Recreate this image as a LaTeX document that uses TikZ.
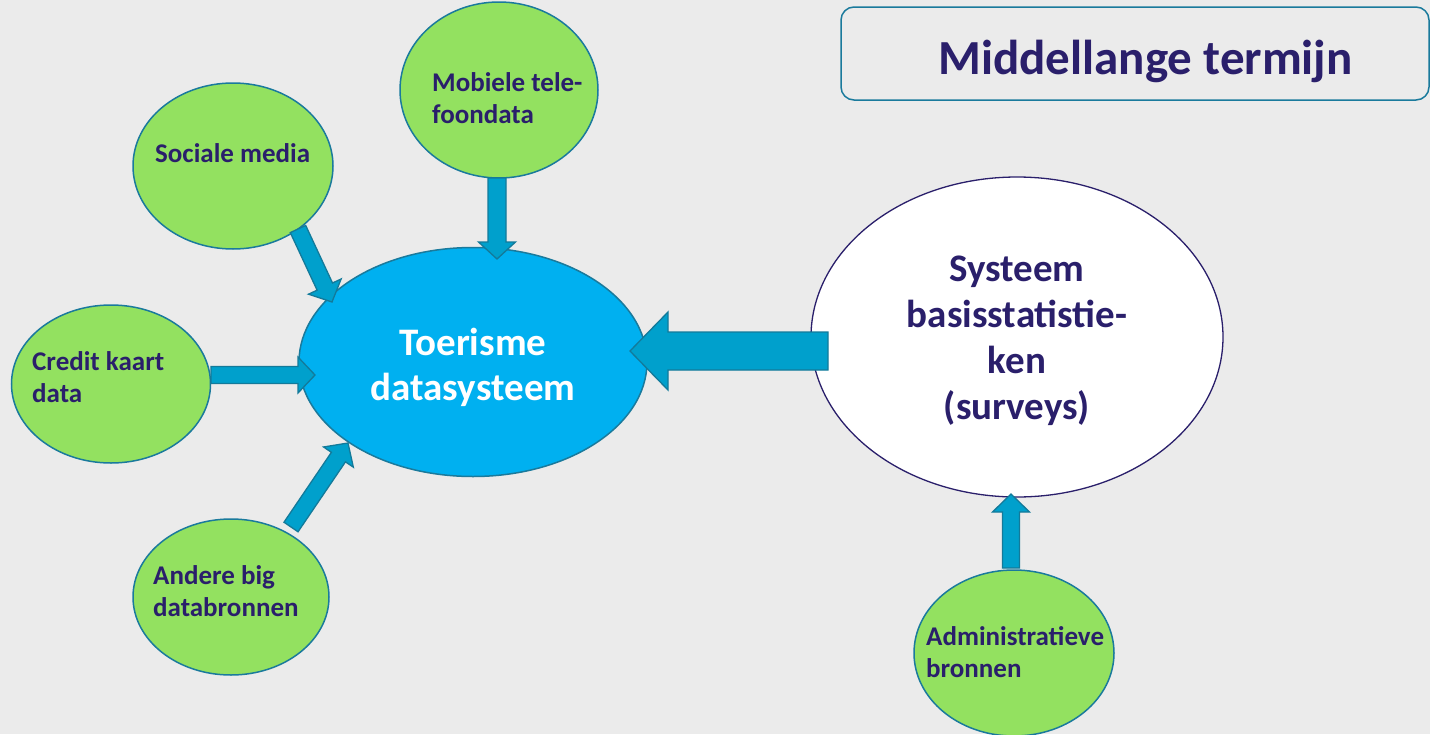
\documentclass[tikz,border=0pt]{standalone}
\usepackage{fontspec}
\setmainfont{Carlito}
\usetikzlibrary{calc,shapes.geometric}
\definecolor{bgc}{HTML}{EBEBEB}
\definecolor{greenf}{HTML}{93E160}
\definecolor{bluef}{HTML}{00B0F0}
\definecolor{tealb}{HTML}{1A7A9C}
\definecolor{arrf}{HTML}{00A0CC}
\definecolor{arrb}{HTML}{137A9A}
\definecolor{navy}{HTML}{2A1F6B}
\tikzset{
  gell/.style={ellipse, draw=tealb, line width=1.5pt, fill=greenf, inner sep=0pt},
  gtxt/.style={anchor=west, align=left, inner sep=0pt, text=navy,
    font=\bfseries\fontsize{27}{32}\selectfont},
  btxt/.style={align=center, inner sep=0pt, text=white,
    font=\bfseries\fontsize{39}{45}\selectfont},
  wtxt/.style={align=center, inner sep=0pt, text=navy,
    font=\bfseries\fontsize{39}{46}\selectfont},
  barrow/.style={fill=arrf, draw=arrb, line width=1.3pt, line join=miter},
}
\newcommand\blockarrow[5]{%
 \draw[barrow] let \p1=(#1), \p2=(#2),
   \n1={atan2(\y2-\y1,\x2-\x1)}, \n2={veclen(\x2-\x1,\y2-\y1)-#5},
   \n3={cos(\n1)}, \n4={sin(\n1)} in
   ({\x1-(#3)*\n4},{\y1+(#3)*\n3}) --
   ({\x1+\n2*\n3-(#3)*\n4},{\y1+\n2*\n4+(#3)*\n3}) --
   ({\x1+\n2*\n3-(#4)*\n4},{\y1+\n2*\n4+(#4)*\n3}) --
   (\p2) --
   ({\x1+\n2*\n3+(#4)*\n4},{\y1+\n2*\n4-(#4)*\n3}) --
   ({\x1+\n2*\n3+(#3)*\n4},{\y1+\n2*\n4-(#3)*\n3}) --
   ({\x1+(#3)*\n4},{\y1-(#3)*\n3}) -- cycle;}
\begin{document}
\begin{tikzpicture}[x=1pt,y=-1pt]
\path[fill=bgc] (0,0) rectangle (1430,734);
\useasboundingbox (0,0) rectangle (1430,734);
% title
\node[draw=tealb, line width=1.5pt, rounded corners=13pt, fill=bgc,
  minimum width=588pt, minimum height=93pt, inner sep=0pt] (title) at (1135,53.5) {};
\node[text=navy, font=\bfseries\fontsize{49}{55}\selectfont, inner sep=0pt] (titleT) at (1145.5,61) {Middellange termijn};
% central
\node[ellipse, draw=tealb, line width=1.5pt, fill=bluef, inner sep=0pt,
  minimum width=348pt, minimum height=229pt] (tds) at (473,362) {};
\node[btxt] (tdsT) at (473,367) {Toerisme\\datasysteem};
\node[ellipse, draw=navy, line width=1.3pt, fill=white, inner sep=0pt,
  minimum width=412pt, minimum height=320pt] (sys) at (1017,337) {};
\node[wtxt] (sysT) at (1017,341) {Systeem\\basisstatistie-\\ken\\(surveys)};
% green sources
\node[gell, minimum width=200pt, minimum height=166pt] (soc) at (233,166) {};
\node[gtxt] (socT) at (155,153) {Sociale media};
\node[gell, minimum width=198pt, minimum height=176pt] (mob) at (499,90) {};
\node[gtxt] (mobT) at (432,98) {Mobiele tele-\\foondata};
\node[gell, minimum width=199pt, minimum height=158pt] (cred) at (111,384) {};
\node[gtxt] (credT) at (32,377) {Credit kaart\\data};
\node[gell, minimum width=196pt, minimum height=156pt] (and) at (231,597) {};
\node[gtxt] (andT) at (153,591) {Andere big\\databronnen};
\node[gell, minimum width=200pt, minimum height=166pt] (adm) at (1014,653) {};
\node[gtxt] (admT) at (926,652) {Administratieve\\bronnen};
% arrow end points
\coordinate (mobA) at (497,178);  \coordinate (mobB) at (497,259);
\coordinate (socA) at (298,229);  \coordinate (socB) at (332,302);
\coordinate (credA) at (211,375); \coordinate (credB) at (315,375);
\coordinate (andA) at (291,527);  \coordinate (andB) at (348,443);
\coordinate (sysA) at (828,351);  \coordinate (sysB) at (630,351);
\coordinate (admA) at (1011,568); \coordinate (admB) at (1011,494);
\blockarrow{mobA}{mobB}{9pt}{18.5pt}{17pt}
\blockarrow{socA}{socB}{8.5pt}{18pt}{17pt}
\blockarrow{credA}{credB}{8.5pt}{18pt}{17pt}
\blockarrow{andA}{andB}{8.5pt}{18pt}{17pt}
\blockarrow{sysA}{sysB}{19pt}{39pt}{38pt}
\blockarrow{admA}{admB}{8.5pt}{18.5pt}{18pt}
\end{tikzpicture}
\end{document}
